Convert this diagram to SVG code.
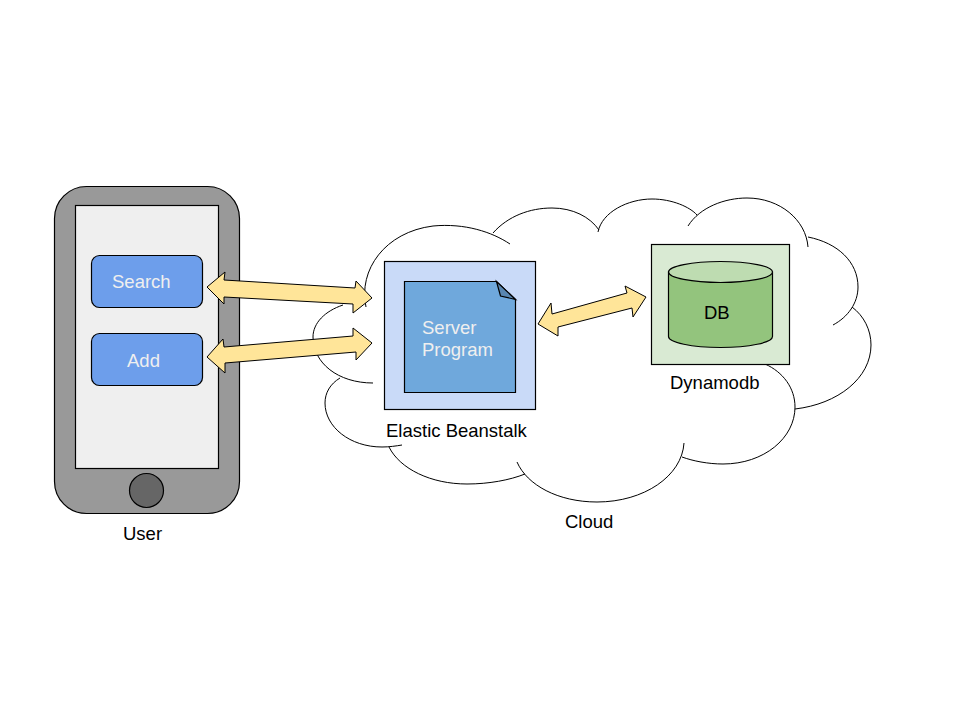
<svg xmlns="http://www.w3.org/2000/svg" width="960" height="720" viewBox="0 0 960 720">
<style>
text{font-family:"Liberation Sans",Arial,sans-serif;font-size:18.500px}
.w{fill:#efefef}.k{fill:#000}
.s{stroke:#000;stroke-width:1.2}
.cl{fill:none;stroke:#000;stroke-width:1}
.ar{fill:#ffe599;stroke:#000;stroke-width:1}
</style>
<rect width="960" height="720" fill="#fff"/>
<g id="phone">
<rect class="s" x="54.500" y="186.500" width="185" height="327" rx="32" fill="#999"/>
<rect class="s" x="75.500" y="205.500" width="143" height="263" fill="#efefef"/>
<circle class="s" cx="146.500" cy="490.500" r="17" fill="#666"/>
<text x="123" y="540">User</text>
</g>
<g id="search">
<rect class="s" x="91.500" y="255.500" width="111" height="52" rx="8" fill="#6d9eeb"/>
<text class="w" x="112" y="288">Search</text>
</g>
<g id="add">
<rect class="s" x="91.500" y="333.500" width="111" height="52" rx="8" fill="#6d9eeb"/>
<text class="w" x="127" y="367">Add</text>
</g>
<g id="cloud">
<path class="cl" d="M366 307C358 270 385 232 433 226C465 223 492 232 510 244"/>
<path class="cl" d="M493 233C508 216 530 208 552 208C573 208 590 217 599 230"/>
<path class="cl" d="M598 232C602 212 628 199 652 199C672 199 690 207 697 215"/>
<path class="cl" d="M688 226C700 207 725 198 747 198C780 198 806 220 808 247"/>
<path class="cl" d="M808 237C838 243 858 262 858 287C858 303 848 317 833 325"/>
<path class="cl" d="M852 307C864 316 871 330 871 345C871 378 838 404 795 409"/>
<path class="cl" d="M765 364C783 372 795 388 795 407C795 438 764 464 723 464C708 464 693 461 682 457"/>
<path class="cl" d="M684 443C682 476 644 502 597 502C558 502 527 485 517 462"/>
<path class="cl" d="M389 447C400 469 431 484 467 484C489 484 510 480 525 474"/>
<path class="cl" d="M340 378C330 384 325 393 325 403C325 427 350 447 382 447C389 447 396 446 402 445"/>
<path class="cl" d="M343 305C325 311 313 323 313 337C313 363 338 383 373 383"/>
</g>
<g id="beanstalk">
<rect class="s" x="384.500" y="261.500" width="151" height="148" fill="#c9daf8"/>
<text class="k" x="386" y="437">Elastic Beanstalk</text>
</g>
<g id="server">
<path class="s" d="M404.500 281.500H496.500L515.500 299.500V392.500H404.500Z" fill="#6fa8dc"/>
<path class="s" d="M496.500 281.500L500.500 296L515.500 299.500Z" fill="#5986b0"/>
<text class="w" x="422" y="334">Server</text>
<text class="w" x="422" y="356">Program</text>
</g>
<g id="dynamodb">
<rect class="s" x="651.500" y="244.500" width="138" height="120" fill="#d9ead3"/>
<path class="s" d="M668.500 272V336.500C668.500 342.500 692 347.500 720.500 347.500S772.500 342.500 772.500 336.500V272Z" fill="#93c47d"/>
<ellipse class="s" cx="720.500" cy="272" rx="52" ry="10.500" fill="#bedcb1"/>
<text class="k" x="704" y="319">DB</text>
<text class="k" x="670" y="389">Dynamodb</text>
</g>
<g id="connectors">
<polygon class="ar" points="207,287 225,272 224,280 355,288 356,281 372,298 353,313 353,304 224,297 224,304"/>
<polygon class="ar" points="207,357 223,339 224,347 353,336 353,328 372,343 356,360 356,352 225,363 225,373"/>
<polygon class="ar" points="538,324 551,303 552,314 627,293 625,286 646,297 633,317 632,308 558,327 558,336"/>
</g>
<text class="k" x="565" y="528">Cloud</text>
</svg>
